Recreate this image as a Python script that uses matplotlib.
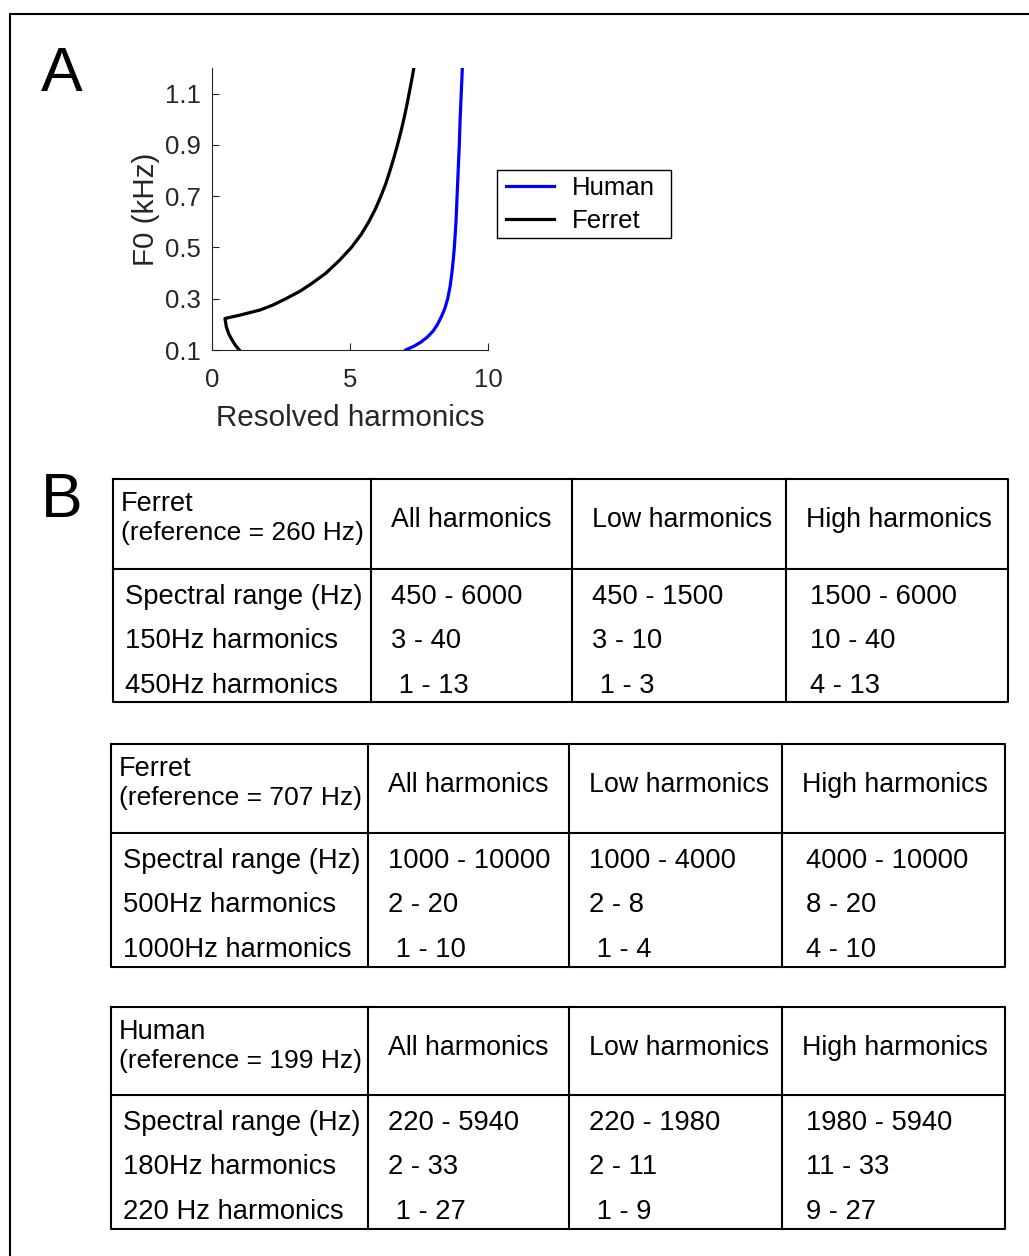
import numpy as np
import matplotlib
matplotlib.use("Agg")
import matplotlib.pyplot as plt
from matplotlib.patches import Rectangle

plt.rcParams.update({"font.family": ["Liberation Sans", "DejaVu Sans"],
                     "font.size": 18})

W, H = 1029, 1256

# ---- panel A data (ferret has a low-F0 kink)
ferret_x = [0.99, 0.85, 0.72, 0.60, 0.52, 0.47, 1.01, 1.74, 2.20, 2.64, 3.20,
            3.62, 4.13, 4.62, 5.05, 5.40, 5.68, 5.92, 6.12, 6.30, 6.45, 6.59,
            6.72, 6.84, 6.95, 7.05, 7.14, 7.23, 7.31]
ferret_f0 = [0.100, 0.118, 0.140, 0.165, 0.190, 0.223, 0.236, 0.256, 0.275,
             0.298, 0.330, 0.360, 0.400, 0.450, 0.500, 0.550, 0.600, 0.650,
             0.700, 0.750, 0.800, 0.850, 0.900, 0.950, 1.000, 1.050, 1.100,
             1.150, 1.198]
human_x = [7.02, 7.32, 7.56, 7.80, 8.02, 8.17, 8.31, 8.43, 8.54, 8.63, 8.69,
           8.74, 8.78, 8.84, 8.88, 8.92, 8.96, 8.99, 9.03, 9.07]
human_f0 = [0.100, 0.115, 0.130, 0.150, 0.175, 0.200, 0.230, 0.260, 0.300,
            0.350, 0.400, 0.450, 0.500, 0.600, 0.700, 0.800, 0.900, 1.000,
            1.100, 1.198]

# ---- panel B tables
col_heads = ["All harmonics", "Low harmonics", "High harmonics"]
t1_title = ["Ferret", "(reference = 260 Hz)"]
t1_rows = ["Spectral range (Hz)", "150Hz harmonics", "450Hz harmonics"]
t1_vals = [["450 - 6000", "450 - 1500", "1500 - 6000"],
           ["3 - 40", "3 - 10", "10 - 40"],
           [" 1 - 13", " 1 - 3", "4 - 13"]]
t2_title = ["Ferret", "(reference = 707 Hz)"]
t2_rows = ["Spectral range (Hz)", "500Hz harmonics", "1000Hz harmonics"]
t2_vals = [["1000 - 10000", "1000 - 4000", "4000 - 10000"],
           ["2 - 20", "2 - 8", "8 - 20"],
           [" 1 - 10", " 1 - 4", "4 - 10"]]
t3_title = ["Human", "(reference = 199 Hz)"]
t3_rows = ["Spectral range (Hz)", "180Hz harmonics", "220 Hz harmonics"]
t3_vals = [["220 - 5940", "220 - 1980", "1980 - 5940"],
           ["2 - 33", "2 - 11", "11 - 33"],
           [" 1 - 27", " 1 - 9", "9 - 27"]]

fig = plt.figure(figsize=(W / 100, H / 100), dpi=100)

# overlay in pixel coordinates for borders, labels and tables
bg = fig.add_axes([0, 0, 1, 1])
bg.set_xlim(0, W); bg.set_ylim(H, 0); bg.axis("off")
bg.plot([9.5, W], [13.5, 13.5], color="k", lw=1.5)
bg.plot([9.5, 9.5], [13.5, H], color="k", lw=1.5)
bg.text(41, 91, "A", fontsize=45, va="baseline", ha="left")
bg.text(41, 517, "B", fontsize=45, va="baseline", ha="left")

# ---- panel A
ax = fig.add_axes([212 / W, 1 - 350 / H, 276 / W, 282 / H])
ax.plot(human_x, human_f0, color="#0000ff", lw=2.3, label="Human")
ax.plot(ferret_x, ferret_f0, color="k", lw=2.3, label="Ferret")
ax.set_xlim(0, 10); ax.set_ylim(0.1, 1.2)
ax.set_xticks([0, 5, 10])
ax.set_yticks([0.1, 0.3, 0.5, 0.7, 0.9, 1.1])
ax.set_yticklabels(["0.1", "0.3", "0.5", "0.7", "0.9", "1.1"])
for s in ["top", "right"]:
    ax.spines[s].set_visible(False)
for s in ["left", "bottom"]:
    ax.spines[s].set_color("#262626"); ax.spines[s].set_linewidth(0.8)
ax.tick_params(direction="in", length=5, width=0.8, color="#262626",
               labelcolor="#262626", labelsize=18.5, pad=8)
ax.tick_params(axis="x", pad=13)
ax.set_xlabel("Resolved harmonics", fontsize=21.3, color="#262626")
ax.set_ylabel("F0 (kHz)", fontsize=21.3, color="#262626")
ax.xaxis.set_label_coords(0.5, -0.192)
ax.yaxis.set_label_coords(-0.19, 0.5)

bg.add_patch(Rectangle((497, 170), 174, 68, fill=False, ec="k", lw=1.0))
leg = ax.legend(loc="upper left", bbox_to_anchor=(506 / W, 1 - 176 / H),
                bbox_transform=fig.transFigure, borderaxespad=0, borderpad=0,
                frameon=False, fontsize=18.5, handlelength=1.85,
                handletextpad=0.7, labelspacing=0.36)
for ln in leg.get_lines():
    ln.set_linewidth(2.3)


def draw_table(left, top, xs, right, bottom, hdiv, title, rows, vals):
    lw = 1.5
    bg.plot([left, right, right, left, left], [top, top, bottom, bottom, top],
            color="k", lw=lw)
    bg.plot([left, right], [hdiv, hdiv], color="k", lw=lw)
    for x in xs:
        bg.plot([x, x], [top, bottom], color="k", lw=lw)
    bg.text(left + 8, top + 25, title[0], fontsize=19.5, va="center")
    bg.text(left + 8, top + 54, title[1], fontsize=19, va="center")
    for x, h in zip(xs, col_heads):
        bg.text(x + 20, top + 41, h, fontsize=19.3, va="center")
    offs = [20, 20, 24]
    for i, r in enumerate(rows):
        y = hdiv + [28, 72, 117][i]
        bg.text(left + 12, y, r, fontsize=19.7, va="center")
        for j, v in enumerate(vals[i]):
            bg.text(xs[j] + offs[j], y, v, fontsize=19.7, va="center")


draw_table(113, 479, [371, 572, 786], 1008, 702, 569, t1_title, t1_rows, t1_vals)
draw_table(111, 744, [368, 569, 782], 1005, 967, 833, t2_title, t2_rows, t2_vals)
draw_table(111, 1007, [368, 569, 782], 1005, 1229, 1095, t3_title, t3_rows, t3_vals)

fig.savefig("out.png", dpi=100)
